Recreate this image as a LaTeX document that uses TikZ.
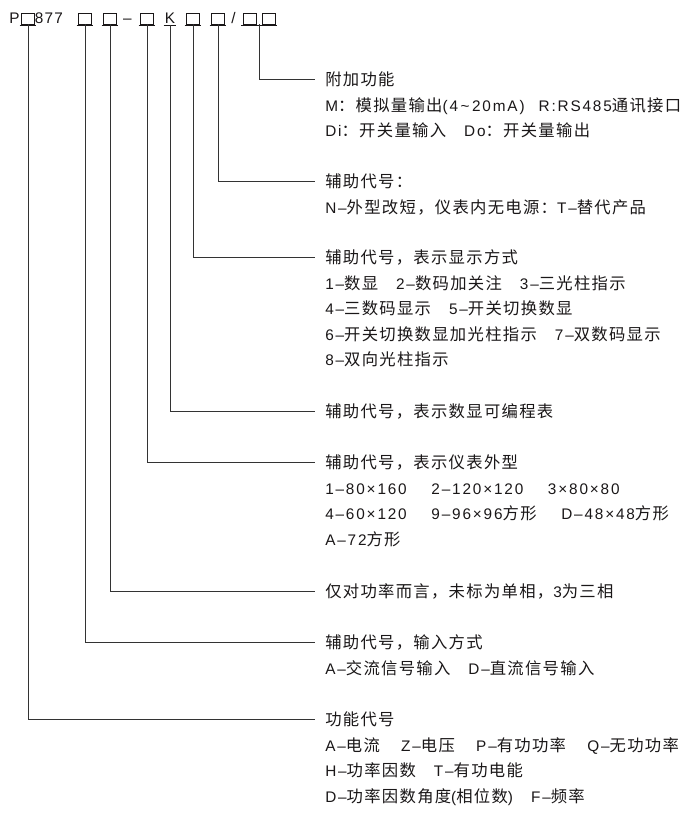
\documentclass[tikz,border=0pt]{standalone}
\usepackage{fontspec}
\setmainfont{Liberation Sans}[LetterSpace=12]
\newfontfamily\zhfont{Noto Sans CJK SC}[LetterSpace=8]
\newfontfamily\hdfont{Liberation Sans}[LetterSpace=8]
\newcommand\zh[1]{{\zhfont\fontsize{12.25pt}{14pt}\selectfont #1}}
\newcommand\gap{\hspace{13.5pt}}
\newcommand\lgap{\hspace{16pt}}
\newcommand\wgap{\hspace{18.5pt}}
\usetikzlibrary{calc}
\definecolor{ink}{HTML}{1A1718}
\definecolor{wire}{HTML}{333333}
\tikzset{
  txt/.style={anchor=west, inner xsep=7.5pt, inner ysep=0pt, text height=10.1pt, text depth=1.4pt,
    font=\fontsize{11.5pt}{13pt}\selectfont, text=ink},
  hd/.style={anchor=base, inner sep=0pt, font=\hdfont\fontsize{11.5pt}{12pt}\selectfont, text=ink},
  box/.style={draw=ink, line width=0.6pt, minimum width=9.8pt, minimum height=8.2pt, inner sep=0pt},
  uline/.style={draw=ink, line width=0.7pt},
  conn/.style={draw=wire, line width=0.75pt}
}
\begin{document}
\begin{tikzpicture}[x=0.75pt,y=-0.75pt]
\fill[white] (0,0) rectangle (690,813);
\useasboundingbox (0,0) rectangle (690,813);
% header
\node[hd] (hP) at (14.5,23.5) {P};
\node[box] (b1) at (28,18.5) {};
\node[hd] (h877) at (49,23.5) {877};
\node[box] (b2) at (85,18.5) {};
\node[box] (b3) at (110,18.5) {};
\node[hd] (hdash) at (127.5,23.5) {–};
\node[box] (b4) at (147,18.5) {};
\node[hd] (hK) at (170,23.5) {K};
\node[box] (b5) at (193,18.5) {};
\node[box] (b6) at (218,18.5) {};
\node[hd] (hsl) at (233.5,23.5) {/};
\node[box] (b7) at (249.5,18.5) {};
\node[box] (b8) at (268.5,18.5) {};
\foreach \b in {b1,b2,b3,b4,b5,b6}{
  \draw[uline] ([xshift=-1pt,yshift=-1pt]\b.south west) -- ([xshift=1pt,yshift=-1pt]\b.south east);
}
\draw[uline] ([xshift=-1pt,yshift=-1pt]b7.south west) -- ([xshift=1pt,yshift=-1pt]b8.south east);
\draw[uline] ([xshift=-4.8pt,yshift=-1.2pt]hK.base) -- ([xshift=4.8pt,yshift=-1.2pt]hK.base);
\coordinate (b78) at ($(b7.south east)!0.5!(b8.south west)$);
\coordinate (kK) at ([yshift=-1.2pt]hK.base);
% group 1
\node[txt] (t1) at (315,80) {\zh{附加功能}};
\node[txt] (t1b) at (315,105.5) {M\zh{：模拟量输出}(4\,\textasciitilde\,20mA)\hspace{10.5pt}R:RS485\zh{通讯接口}};
\node[txt] (t1c) at (315,131) {Di\zh{：开关量输入}\gap Do\zh{：开关量输出}};
% group 2
\node[txt] (t2) at (315,181.7) {\zh{辅助代号：}};
\node[txt] (t2b) at (315,207.5) {N–\zh{外型改短，仪表内无电源：}T–\zh{替代产品}};
% group 3
\node[txt] (t3) at (315,257.5) {\zh{辅助代号，表示显示方式}};
\node[txt] (t3b) at (315,283.5) {1–\zh{数显}\gap 2–\zh{数码加关注}\gap 3–\zh{三光柱指示}};
\node[txt] (t3c) at (315,309) {4–\zh{三数码显示}\gap 5–\zh{开关切换数显}};
\node[txt] (t3d) at (315,334.5) {6–\zh{开关切换数显加光柱指示}\gap 7–\zh{双数码显示}};
\node[txt] (t3e) at (315,360) {8–\zh{双向光柱指示}};
% group 4
\node[txt] (t4) at (315,411.5) {\zh{辅助代号，表示数显可编程表}};
% group 5
\node[txt] (t5) at (315,462.5) {\zh{辅助代号，表示仪表外型}};
\node[txt] (t5b) at (315,488.5) {1–80×160\wgap 2–120×120\wgap 3×80×80};
\node[txt] (t5c) at (315,514) {4–60×120\wgap 9–96×96\zh{方形}\wgap D–48×48\zh{方形}};
\node[txt] (t5d) at (315,539.5) {A–72\zh{方形}};
% group 6
\node[txt] (t6) at (315,591.5) {\zh{仅对功率而言，未标为单相，}3\zh{为三相}};
% group 7
\node[txt] (t7) at (315,642.5) {\zh{辅助代号，输入方式}};
\node[txt] (t7b) at (315,668.5) {A–\zh{交流信号输入}\gap D–\zh{直流信号输入}};
% group 8
\node[txt] (t8) at (315,719.5) {\zh{功能代号}};
\node[txt] (t8b) at (315,745.5) {A–\zh{电流}\lgap Z–\zh{电压}\lgap P–\zh{有功功率}\lgap Q–\zh{无功功率}};
\node[txt] (t8c) at (315,771) {H–\zh{功率因数}\gap T–\zh{有功电能}};
\node[txt] (t8d) at (315,796.5) {D–\zh{功率因数角度}(\zh{相位数})\gap F–\zh{频率}};
% connectors
\draw[conn] (b78) |- (t1.west);
\draw[conn] (b6.south) |- (t2.west);
\draw[conn] (b5.south) |- (t3.west);
\draw[conn] (kK) |- (t4.west);
\draw[conn] (b4.south) |- (t5.west);
\draw[conn] (b3.south) |- (t6.west);
\draw[conn] (b2.south) |- (t7.west);
\draw[conn] (b1.south) |- (t8.west);
\end{tikzpicture}
\end{document}
